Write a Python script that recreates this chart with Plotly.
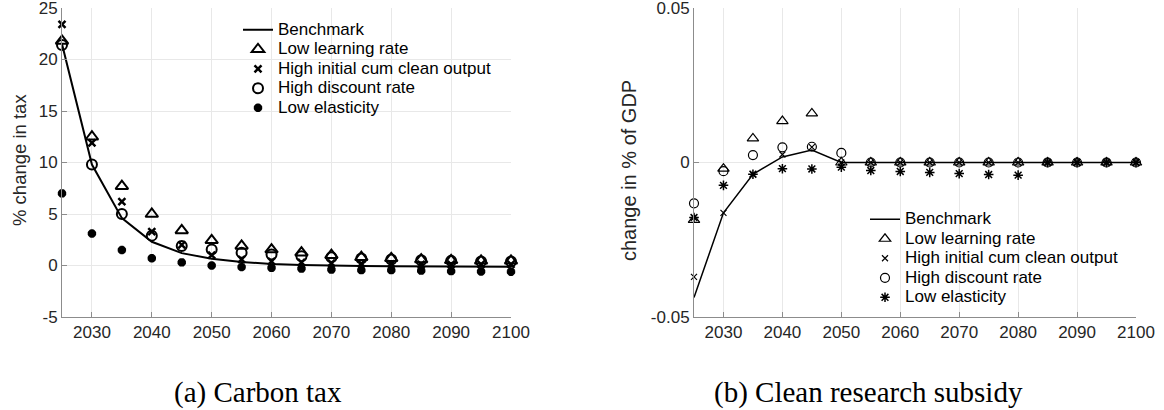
import plotly.graph_objects as go

years = [2025, 2030, 2035, 2040, 2045, 2050, 2055, 2060, 2065, 2070, 2075, 2080, 2085, 2090, 2095, 2100]

# (a) Carbon tax, % change in tax
tax_benchmark = [21.5, 9.8, 4.6, 2.3, 1.2, 0.65, 0.35, 0.15, 0.05, -0.02, -0.06, -0.08, -0.1, -0.1, -0.12, -0.12]
tax_low_learning = [21.8, 12.5, 7.7, 5.0, 3.4, 2.45, 1.9, 1.55, 1.25, 1.0, 0.8, 0.7, 0.58, 0.5, 0.45, 0.45]
tax_high_cum = [23.4, 11.9, 6.2, 3.3, 2.0, 1.0, 0.6, 0.4, 0.3, 0.22, 0.18, 0.15, 0.12, 0.1, 0.1, 0.1]
tax_high_discount = [21.4, 9.8, 5.0, 2.9, 1.9, 1.55, 1.25, 1.07, 0.9, 0.8, 0.68, 0.58, 0.5, 0.45, 0.4, 0.38]
tax_low_elasticity = [7.0, 3.1, 1.5, 0.7, 0.3, 0.0, -0.15, -0.23, -0.3, -0.4, -0.45, -0.45, -0.5, -0.55, -0.58, -0.6]

# (b) Clean research subsidy, change in % of GDP
sub_benchmark = [-0.0437, -0.0163, -0.0038, 0.0018, 0.004, 0.0, 0, 0, 0, 0, 0, 0, 0, 0, 0, 0]
sub_low_learning = [-0.0186, -0.002, 0.0078, 0.0134, 0.0159, 0.0, 0, 0, 0, 0, 0, 0, 0, 0, 0, 0]
sub_high_cum = [-0.037, -0.0163, -0.0038, 0.0026, 0.005, 0.0, 0, 0, 0, 0, 0, 0, 0, 0, 0, 0]
sub_high_discount = [-0.0132, -0.0028, 0.0024, 0.0049, 0.0051, 0.0031, 0, 0, 0, 0, 0, 0, 0, 0, 0, 0]
sub_low_elasticity = [-0.0178, -0.0074, -0.0038, -0.002, -0.0021, -0.0015, -0.0026, -0.0029, -0.0032, -0.0036, -0.0039, -0.0041, 0, 0, 0, 0]

series_names = ["Benchmark", "Low learning rate", "High initial cum clean output",
                "High discount rate", "Low elasticity"]

x_ticks = [2030, 2040, 2050, 2060, 2070, 2080, 2090, 2100]
tax_ticks = [-5, 0, 5, 10, 15, 20, 25]
tax_ticktext = ["-5", "0", "5", "10", "15", "20", "25"]
sub_ticks = [-0.05, 0, 0.05]
sub_ticktext = ["-0.05", "0", "0.05"]

W, H = 1164, 410
SANS = "Liberation Sans, Arial, sans-serif"
TICKFONT = dict(family=SANS, size=17, color="#262626")
# small legend base font keeps MATLAB-like tight row spacing; names carry the real size
LEGFONT = dict(family=SANS, size=12.7, color="#000000")


def leg_name(s):
    return "<span style='font-size:17px'>%s</span>" % s


fig = go.Figure()


def add_panel(xa, ya, leg, vals, bold):
    bench, low_l, high_c, high_d, low_e = vals
    fig.add_trace(go.Scatter(x=years, y=bench, mode="lines", name=leg_name(series_names[0]),
                             line=dict(color="black", width=2 if bold else 1.5),
                             xaxis=xa, yaxis=ya, legend=leg, cliponaxis=False))
    specs = [
        (low_l, "triangle-up-open", 11 if bold else 10, 2 if bold else 1.2),
        (high_c, "x-thin-open", 7 if bold else 6, 2.5 if bold else 1.2),
        (high_d, "circle-open", 10 if bold else 9, 2 if bold else 1.2),
        (low_e, "asterisk-open", 7 if bold else 8, 3 if bold else 1.5),
    ]
    for (yv, sym, sz, w), nm in zip(specs, series_names[1:]):
        fig.add_trace(go.Scatter(x=years, y=yv, mode="markers", name=leg_name(nm),
                                 marker=dict(symbol=sym, size=sz, color="black",
                                             line=dict(color="black", width=w)),
                                 xaxis=xa, yaxis=ya, legend=leg, cliponaxis=False))


add_panel("x", "y", "legend",
          [tax_benchmark, tax_low_learning, tax_high_cum, tax_high_discount, tax_low_elasticity], True)
add_panel("x2", "y2", "legend2",
          [sub_benchmark, sub_low_learning, sub_high_cum, sub_high_discount, sub_low_elasticity], False)

ytop, ybot = 8, 317
ydom = [(H - ybot) / H, (H - ytop) / H]

axis_common = dict(showgrid=True, gridcolor="#e8e8e8", gridwidth=1, showline=True,
                   linecolor="#8c8c8c", linewidth=1, ticks="inside", ticklen=5,
                   tickcolor="#8c8c8c", tickfont=TICKFONT, zeroline=False, mirror=False,
                   ticklabeloverflow="allow", automargin=False)

fig.update_layout(
    width=W, height=H, margin=dict(l=0, r=0, t=0, b=0, autoexpand=False),
    paper_bgcolor="white", plot_bgcolor="white",
    xaxis=dict(domain=[62 / W, 511 / W], range=[2025, 2100], tickvals=x_ticks,
               anchor="y", **axis_common),
    yaxis=dict(domain=ydom, range=[-5, 25], tickvals=tax_ticks, ticktext=tax_ticktext,
               anchor="x", **axis_common),
    xaxis2=dict(domain=[694 / W, 1136 / W], range=[2025, 2100], tickvals=x_ticks,
                anchor="y2", **axis_common),
    yaxis2=dict(domain=ydom, range=[-0.05, 0.05], tickvals=sub_ticks, ticktext=sub_ticktext,
                anchor="x2", **axis_common),
    legend=dict(x=238 / W, y=1 - 15 / H, xanchor="left", yanchor="top",
                bgcolor="rgba(0,0,0,0)", font=LEGFONT, tracegroupgap=0, itemwidth=30),
    legend2=dict(x=865 / W, y=1 - 204.5 / H, xanchor="left", yanchor="top",
                 bgcolor="rgba(0,0,0,0)", font=LEGFONT, tracegroupgap=0, itemwidth=30),
    annotations=[
        dict(text="% change in tax", x=19 / W, y=(H - 160) / H, xref="paper", yref="paper",
             textangle=-90, showarrow=False, xanchor="center", yanchor="middle",
             font=dict(family=SANS, size=18.5, color="#262626")),
        dict(text="change in % of GDP", x=629 / W, y=(H - 171) / H, xref="paper", yref="paper",
             textangle=-90, showarrow=False, xanchor="center", yanchor="middle",
             font=dict(family=SANS, size=20, color="#262626")),
        dict(text="(a) Carbon tax", x=258 / W, y=(H - 392) / H, xref="paper", yref="paper",
             showarrow=False, xanchor="center", yanchor="middle",
             font=dict(family="Liberation Serif, Times New Roman, serif", size=29, color="black")),
        dict(text="(b) Clean research subsidy", x=868 / W, y=(H - 392) / H, xref="paper", yref="paper",
             showarrow=False, xanchor="center", yanchor="middle",
             font=dict(family="Liberation Serif, Times New Roman, serif", size=29, color="black")),
    ],
)

# remove the browser's default 8px body margin so the figure sits at the page origin
fig.write_html("out.html", config={"displayModeBar": False},
               post_script="document.body.style.margin='0px';document.body.style.overflow='hidden';")
